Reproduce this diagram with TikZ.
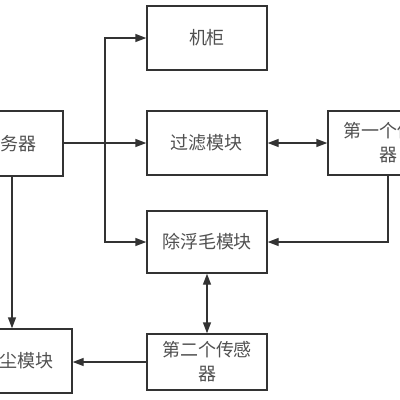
\documentclass[tikz,border=0pt]{standalone}
\usepackage{fontspec}
\setmainfont{Noto Sans CJK SC}
\usetikzlibrary{arrows.meta}
\definecolor{linec}{HTML}{333333}
\definecolor{textc}{HTML}{505050}
\tikzset{
  box/.style={draw=linec, line width=1.4pt, inner sep=0pt, align=center,
    text=textc, font=\fontsize{18}{24}\selectfont},
  conn/.style={draw=linec, line width=1.4pt, -{Triangle[length=11pt,width=8pt]}},
  dconn/.style={draw=linec, line width=1.4pt, {Triangle[length=11pt,width=8pt]}-{Triangle[length=11pt,width=8pt]}}
}
\begin{document}
\begin{tikzpicture}[x=1pt,y=-1pt]
\useasboundingbox (0,0) rectangle (400,400);
\node[box, minimum width=120pt, minimum height=64pt] (jg) at (207,38) {机柜};
\node[box, minimum width=120pt, minimum height=64pt] (gl) at (207,143) {过滤模块};
\node[box, minimum width=120pt, minimum height=62pt] (cf) at (207,242) {除浮毛模块};
\node[box, minimum width=120pt, minimum height=56pt] (s2) at (207,362) {第二个传感\\器};
\node[box, minimum width=120pt, minimum height=64pt] (s1) at (388,143) {第一个传感\\器};
\node[box, minimum width=106pt, minimum height=65pt] (fw) at (10,143.5) {服务器};
\node[box, minimum width=108pt, minimum height=64pt] (cc) at (18,361) {除尘模块};
\coordinate (j) at (105,143);
\coordinate (vx) at (12,0);
\draw[conn] (fw.east |- gl.west) -- (gl.west);
\draw[conn] (fw.east |- gl.west) -- (j) |- (jg.west);
\draw[conn] (j) |- (cf.west);
\draw[dconn] (gl.east) -- (s1.west);
\draw[conn] (s1.south) |- (cf.east);
\draw[dconn] (cf.south) -- (s2.north);
\draw[conn] (s2.west) -- (cc.east |- s2.west);
\draw[conn] (fw.south -| vx) -- (cc.north -| vx);
\end{tikzpicture}
\end{document}
